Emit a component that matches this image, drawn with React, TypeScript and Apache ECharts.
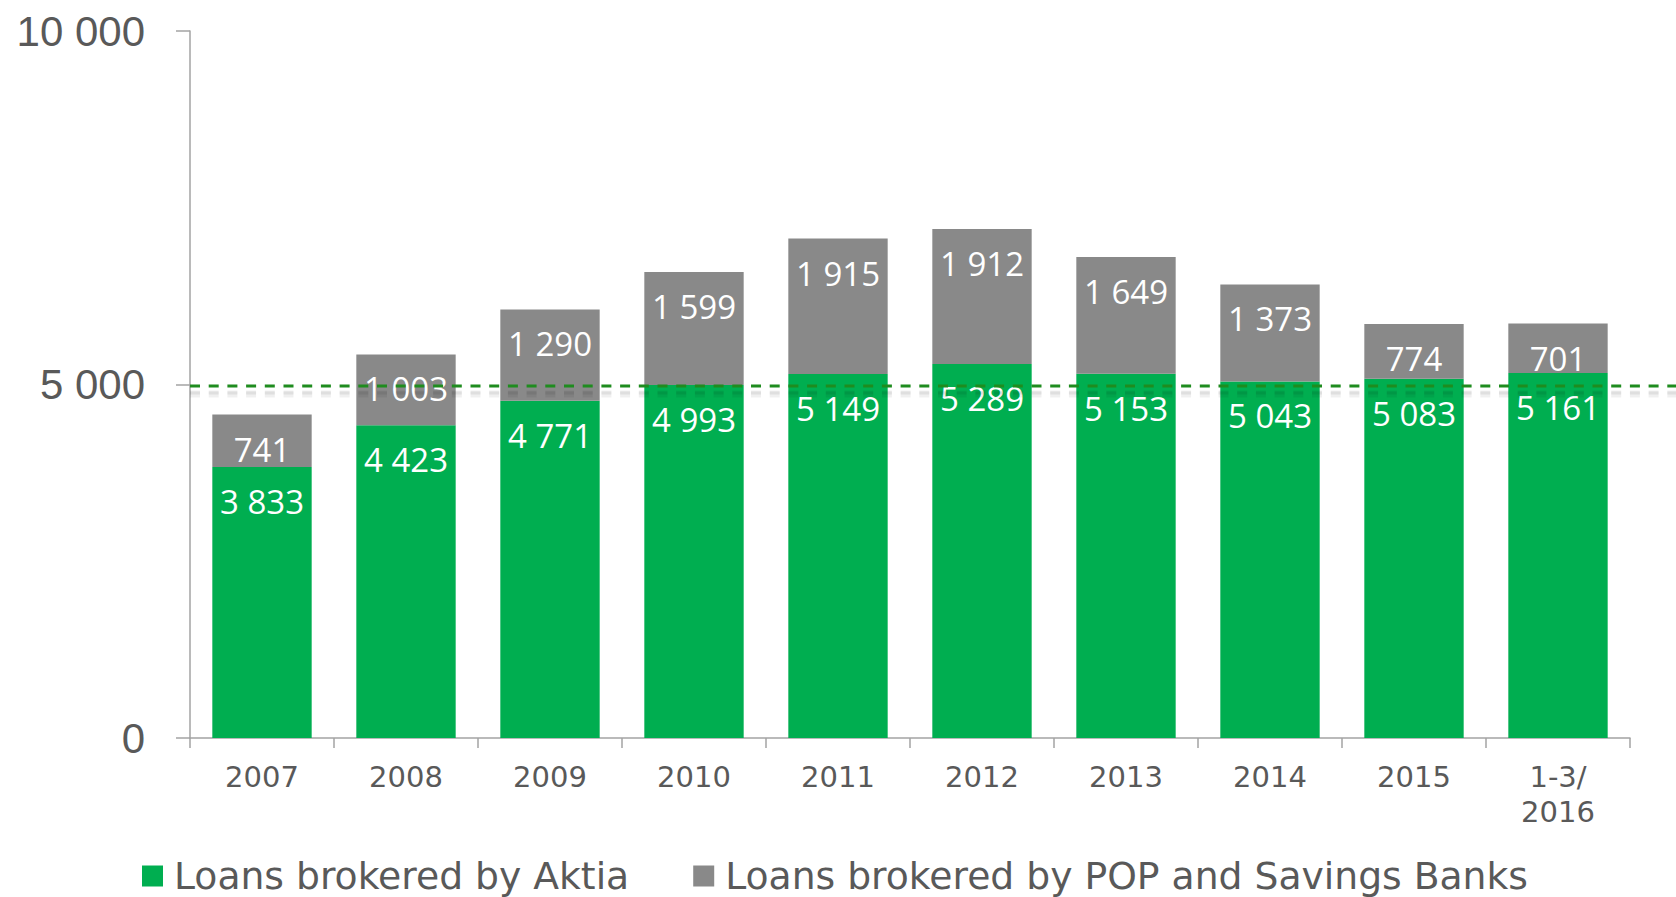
import React, { useEffect, useRef } from "react";
import * as echarts from "echarts";

const categories = ["2007", "2008", "2009", "2010", "2011", "2012", "2013", "2014", "2015", "1-3/\n2016"];
const aktiaValues = [3833, 4423, 4771, 4993, 5149, 5289, 5153, 5043, 5083, 5161];
const popValues = [741, 1003, 1290, 1599, 1915, 1912, 1649, 1373, 774, 701];
const seriesNames = ["Loans brokered by Aktia", "Loans brokered by POP and Savings Banks"];
const referenceValue = 5000;
const yTicks = { min: 0, max: 10000, interval: 5000 };

const fmt = (v: number) => String(v).replace(/\B(?=(\d{3})+(?!\d))/g, " ");

const GREEN = "#00AE50";
const GRAY = "#898989";
const TEXT = "#595959";
const AXIS = "#a3a3a3";
const WIDTH = 1676;
const HEIGHT = 897;
const GRID_LEFT = 190;
const DASH = [10, 8.7];

export default function App() {
  const ref = useRef<HTMLDivElement>(null);
  useEffect(() => {
    if (!ref.current) return;
    const chart = echarts.init(ref.current, null, { renderer: "svg" });
    const label = {
      show: true,
      position: "insideTop",
      distance: 18,
      color: "#ffffff",
      fontFamily: "Open Sans",
      fontSize: 33,
      lineHeight: 33,
      formatter: (p: any) => fmt(p.value),
    };
    chart.setOption({
      animation: false,
      backgroundColor: "#ffffff",
      grid: { left: GRID_LEFT, right: 46, top: 31, bottom: 159, containLabel: false },
      legend: {
        data: seriesNames,
        left: 137,
        top: 851,
        itemWidth: 21,
        itemHeight: 21,
        itemGap: 64,
        icon: "rect",
        textStyle: {
          fontFamily: "DejaVu Sans",
          fontSize: 37.7,
          lineHeight: 40,
          color: TEXT,
          padding: [0, 0, 0, 6],
        },
      },
      xAxis: {
        type: "category",
        data: categories,
        boundaryGap: true,
        axisLine: { show: true, lineStyle: { color: AXIS, width: 1.5 } },
        axisTick: { show: true, length: 10, lineStyle: { color: AXIS, width: 1.5 } },
        axisLabel: {
          color: TEXT,
          fontFamily: "DejaVu Sans",
          fontSize: 29,
          lineHeight: 35,
          margin: 21,
          interval: 0,
        },
      },
      yAxis: {
        type: "value",
        min: yTicks.min,
        max: yTicks.max,
        interval: yTicks.interval,
        splitLine: { show: false },
        axisLine: { show: true, lineStyle: { color: AXIS, width: 1.5 } },
        axisTick: { show: true, length: 14, lineStyle: { color: AXIS, width: 1.5 } },
        axisLabel: {
          color: TEXT,
          fontFamily: "Liberation Sans",
          fontSize: 42,
          margin: 45,
          formatter: (v: number) => fmt(v),
        },
      },
      series: [
        {
          name: seriesNames[0],
          type: "bar",
          stack: "total",
          data: aktiaValues,
          barCategoryGap: "31%",
          itemStyle: { color: GREEN },
          label,
          z: 2,
        },
        {
          name: seriesNames[1],
          type: "bar",
          stack: "total",
          data: popValues,
          barCategoryGap: "31%",
          itemStyle: { color: GRAY },
          label,
          z: 2,
        },
      ],
    });
    const refY = Number(chart.convertToPixel({ yAxisIndex: 0 }, referenceValue)) + 1.5;
    chart.setOption({
      graphic: [
        {
          type: "line",
          silent: true,
          z: 10,
          shape: { x1: GRID_LEFT, y1: refY + 8, x2: WIDTH, y2: refY + 8 },
          style: { stroke: "rgba(0,0,0,0.06)", lineWidth: 7, lineDash: DASH },
        },
        {
          type: "line",
          silent: true,
          z: 10,
          shape: { x1: GRID_LEFT, y1: refY + 7, x2: WIDTH, y2: refY + 7 },
          style: { stroke: "rgba(0,0,0,0.07)", lineWidth: 3, lineDash: DASH },
        },
        {
          type: "line",
          silent: true,
          z: 11,
          shape: { x1: GRID_LEFT, y1: refY, x2: WIDTH, y2: refY },
          style: { stroke: "#1f8c1f", lineWidth: 3, lineDash: DASH },
        },
      ],
    });
    return () => chart.dispose();
  }, []);
  return (
    <div
      ref={ref}
      style={{ position: "fixed", left: 0, top: 0, width: WIDTH, height: HEIGHT, background: "#fff" }}
    />
  );
}
